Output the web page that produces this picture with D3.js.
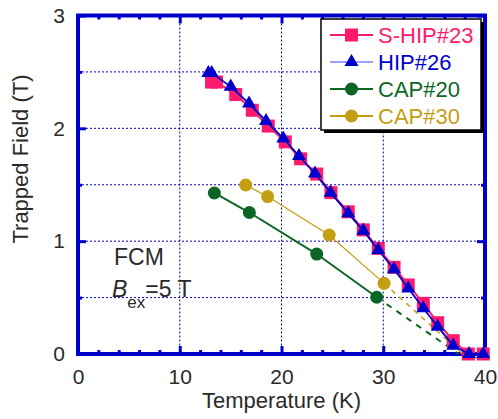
<!DOCTYPE html>
<html>
<head>
<meta charset="utf-8">
<script src="https://cdn.jsdelivr.net/npm/d3@7"></script>
<style>
  body { margin: 0; background: #fff; }
  text { font-family: "Liberation Sans", Arial, sans-serif; fill: #2a2a2a; }
</style>
</head>
<body>
<div id="chart"></div>
<script>
// S-HIP#23 (squares)
const shipTemp = [13.12, 13.61, 15.5, 17.13, 18.7, 20.37, 21.88, 23.46, 24.86, 26.56, 28.04, 29.51, 31.06, 32.46, 33.94, 35.35, 36.88, 38.36, 39.83];
const shipField = [2.41, 2.41, 2.30, 2.16, 2.02, 1.88, 1.73, 1.595, 1.43, 1.26, 1.10, 0.936, 0.768, 0.612, 0.449, 0.277, 0.118, 0, 0];

// HIP#26 (triangles)
const hipTemp = [12.81, 13.14, 15.01, 16.81, 18.48, 20.18, 21.72, 23.29, 24.82, 26.56, 28.04, 29.51, 31.06, 32.46, 33.94, 35.35, 36.88, 38.43, 39.83];
const hipField = [2.49, 2.49, 2.37, 2.22, 2.065, 1.91, 1.755, 1.60, 1.43, 1.247, 1.093, 0.922, 0.751, 0.582, 0.405, 0.242, 0.074, 0, 0];

// CAP#20 (green circles) + dashed extrapolation
const cap20Temp = [13.4, 16.84, 23.46, 29.36];
const cap20Field = [1.427, 1.254, 0.886, 0.503];
const cap20ExtTemp = [29.36, 37.4];
const cap20ExtField = [0.503, 0];

// CAP#30 (gold circles) + dashed extrapolation
const cap30Temp = [16.48, 18.64, 24.69, 30.08];
const cap30Field = [1.498, 1.395, 1.054, 0.626];
const cap30ExtTemp = [30.08, 37.8];
const cap30ExtField = [0.626, 0];

const xTicks = [0, 10, 20, 30, 40];
const yTicks = [0, 1, 2, 3];
const legendNames = ["S-HIP#23", "HIP#26", "CAP#20", "CAP#30"];

const W = 498, H = 419;
const margin = {top: 15.5, right: 13, bottom: 65, left: 78};
const width = W - margin.left - margin.right;
const height = H - margin.top - margin.bottom;

const blue = "#0000cc";
const pink = "#ff1a6e";
const green = "#0b6623";
const gold = "#c49e12";

const root = d3.select("#chart").append("svg")
  .attr("width", W)
  .attr("height", H);

const svg = root.append("g")
  .attr("transform", `translate(${margin.left},${margin.top})`);

const xScale = d3.scaleLinear().domain([0, 40]).range([0, width]);
const yScale = d3.scaleLinear().domain([0, 3]).range([height, 0]);

const zip = (a, b) => a.map((v, i) => [v, b[i]]);

// dotted grid
svg.append("g")
  .selectAll("line")
  .data([10, 20, 30])
  .join("line")
  .attr("x1", d => xScale(d)).attr("x2", d => xScale(d))
  .attr("y1", 0).attr("y2", height)
  .attr("stroke", blue).attr("stroke-width", 1).attr("stroke-dasharray", "2,2");

svg.append("g")
  .selectAll("line")
  .data([0.5, 1, 1.5, 2, 2.5])
  .join("line")
  .attr("x1", 0).attr("x2", width)
  .attr("y1", d => yScale(d)).attr("y2", d => yScale(d))
  .attr("stroke", blue).attr("stroke-width", 1).attr("stroke-dasharray", "2,2");

// axes: major + minor inward ticks, on all four sides
function styleAxis(g) {
  g.select(".domain").remove();
  g.selectAll(".tick line").attr("stroke", blue).attr("stroke-width", 3);
  g.selectAll(".tick text").attr("font-size", 21).attr("fill", "#2a2a2a")
    .attr("font-family", "Liberation Sans, Arial, sans-serif");
}

const xMinor = d3.range(0, 41, 2).filter(d => d % 10 !== 0);
const yMinor = [0.5, 1.5, 2.5];

svg.append("g")
  .attr("transform", `translate(0,${height})`)
  .call(d3.axisBottom(xScale).tickValues(xTicks).tickFormat(d3.format("d"))
    .tickSizeInner(-8).tickSizeOuter(0).tickPadding(15))
  .call(styleAxis);
svg.append("g")
  .attr("transform", `translate(0,${height})`)
  .call(d3.axisBottom(xScale).tickValues(xMinor).tickFormat("").tickSizeInner(-4).tickSizeOuter(0))
  .call(styleAxis);
svg.append("g")
  .call(d3.axisTop(xScale).tickValues(xTicks).tickFormat("").tickSizeInner(-8).tickSizeOuter(0))
  .call(styleAxis);
svg.append("g")
  .call(d3.axisTop(xScale).tickValues(xMinor).tickFormat("").tickSizeInner(-4).tickSizeOuter(0))
  .call(styleAxis);

svg.append("g")
  .call(d3.axisLeft(yScale).tickValues(yTicks).tickFormat(d3.format("d"))
    .tickSizeInner(-8).tickSizeOuter(0).tickPadding(13))
  .call(styleAxis);
svg.append("g")
  .call(d3.axisLeft(yScale).tickValues(yMinor).tickFormat("").tickSizeInner(-4).tickSizeOuter(0))
  .call(styleAxis);
svg.append("g")
  .attr("transform", `translate(${width},0)`)
  .call(d3.axisRight(yScale).tickValues(yTicks).tickFormat("").tickSizeInner(-8).tickSizeOuter(0))
  .call(styleAxis);
svg.append("g")
  .attr("transform", `translate(${width},0)`)
  .call(d3.axisRight(yScale).tickValues(yMinor).tickFormat("").tickSizeInner(-4).tickSizeOuter(0))
  .call(styleAxis);

// frame
svg.append("rect")
  .attr("x", 0).attr("y", 0)
  .attr("width", width).attr("height", height)
  .attr("fill", "none").attr("stroke", blue).attr("stroke-width", 4);

const line = d3.line()
  .x(d => xScale(d[0]))
  .y(d => yScale(d[1]));

// CAP#30
svg.append("path").datum(zip(cap30ExtTemp, cap30ExtField))
  .attr("d", line).attr("fill", "none").attr("stroke", gold)
  .attr("stroke-width", 1.5).attr("stroke-dasharray", "5,5");
svg.append("path").datum(zip(cap30Temp, cap30Field))
  .attr("d", line).attr("fill", "none").attr("stroke", gold).attr("stroke-width", 1.2);
svg.append("g").selectAll("circle")
  .data(zip(cap30Temp, cap30Field))
  .join("circle")
  .attr("cx", d => xScale(d[0])).attr("cy", d => yScale(d[1]))
  .attr("r", 6.5).attr("fill", gold);

// CAP#20
svg.append("path").datum(zip(cap20ExtTemp, cap20ExtField))
  .attr("d", line).attr("fill", "none").attr("stroke", green)
  .attr("stroke-width", 2).attr("stroke-dasharray", "6,6");
svg.append("path").datum(zip(cap20Temp, cap20Field))
  .attr("d", line).attr("fill", "none").attr("stroke", green).attr("stroke-width", 2);
svg.append("g").selectAll("circle")
  .data(zip(cap20Temp, cap20Field))
  .join("circle")
  .attr("cx", d => xScale(d[0])).attr("cy", d => yScale(d[1]))
  .attr("r", 6.5).attr("fill", green);

// S-HIP#23
svg.append("path").datum(zip(shipTemp, shipField))
  .attr("d", line).attr("fill", "none").attr("stroke", pink).attr("stroke-width", 2);
svg.append("g").selectAll("rect")
  .data(zip(shipTemp, shipField))
  .join("rect")
  .attr("x", d => xScale(d[0]) - 6.5).attr("y", d => yScale(d[1]) - 6.5)
  .attr("width", 13).attr("height", 13).attr("fill", pink);

// HIP#26
const tri = d3.symbol().type(d3.symbolTriangle).size(85);
svg.append("path").datum(zip(hipTemp, hipField))
  .attr("d", line).attr("fill", "none").attr("stroke", blue).attr("stroke-width", 1.8);
svg.append("g").selectAll("path")
  .data(zip(hipTemp, hipField))
  .join("path")
  .attr("transform", d => `translate(${xScale(d[0])},${yScale(d[1])})`)
  .attr("d", tri).attr("fill", blue);

// legend
const lg = root.append("g").attr("transform", "translate(321,19)");
lg.append("rect").attr("x", 3).attr("y", 3).attr("width", 160).attr("height", 111).attr("fill", "#000");
lg.append("rect").attr("x", 0).attr("y", 0).attr("width", 160).attr("height", 111)
  .attr("fill", "#fff").attr("stroke", "#000").attr("stroke-width", 1.5);

const legendColors = [pink, "#7f7fff", green, gold];
const markColors = [pink, blue, green, gold];
legendNames.forEach(function (name, i) {
  const cy = 16 + i * 27;
  lg.append("line").attr("x1", 9).attr("x2", 52).attr("y1", cy).attr("y2", cy)
    .attr("stroke", legendColors[i]).attr("stroke-width", i === 1 ? 1.5 : 2);
  if (i === 0) {
    lg.append("rect").attr("x", 24).attr("y", cy - 6.5).attr("width", 13).attr("height", 13).attr("fill", pink);
  } else if (i === 1) {
    lg.append("path").attr("transform", `translate(30.5,${cy})`).attr("d", tri).attr("fill", blue);
  } else {
    lg.append("circle").attr("cx", 30.5).attr("cy", cy).attr("r", 6.5).attr("fill", markColors[i]);
  }
  lg.append("text").attr("x", 57).attr("y", cy + 8)
    .attr("font-size", 22).style("fill", markColors[i]).text(name);
});

// annotation
root.append("text").attr("x", 114).attr("y", 265).attr("font-size", 23).text("FCM");
const bt = root.append("text").attr("x", 112).attr("y", 297).attr("font-size", 23);
bt.append("tspan").attr("font-style", "italic").text("B");
bt.append("tspan").attr("font-size", 17).attr("dy", 11).text("ex");
bt.append("tspan").attr("dy", -11).text("=5 T");

// axis titles
root.append("text")
  .attr("x", margin.left + width / 2).attr("y", 408)
  .attr("text-anchor", "middle").attr("font-size", 22)
  .text("Temperature (K)");
root.append("text")
  .attr("transform", "translate(28,159) rotate(-90)")
  .attr("text-anchor", "middle").attr("font-size", 22)
  .text("Trapped Field (T)");
</script>
</body>
</html>
